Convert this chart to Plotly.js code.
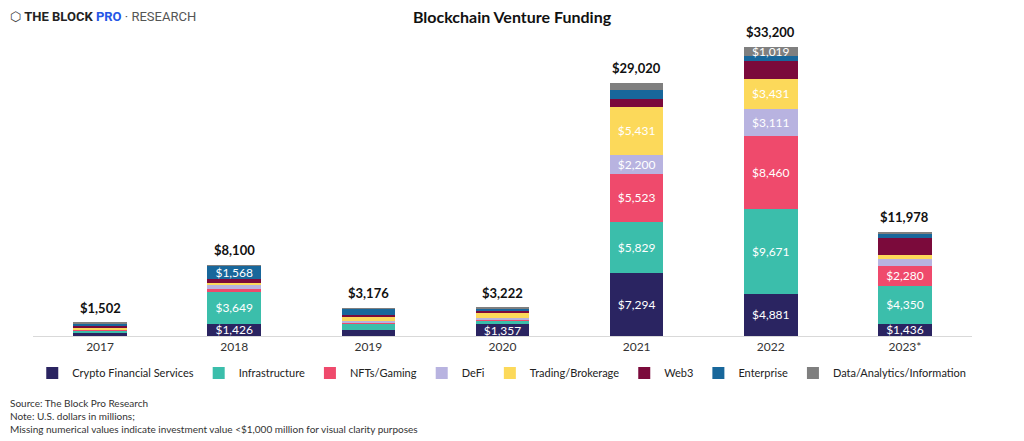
<!DOCTYPE html>
<html>
<head>
<meta charset="utf-8">
<script src="https://cdn.plot.ly/plotly-3.0.1.min.js"></script>
<style>
  html, body { margin: 0; padding: 0; background: #fff; }
  #chart { width: 1024px; height: 441px; }
</style>
</head>
<body>
<div id="chart"></div>
<script>
// years on the x axis
var years = ["2017", "2018", "2019", "2020", "2021", "2022", "2023*"];

// funding per sector, USD millions (small ones)
var cryptoFinancial = [300, 1426, 730, 1357, 7294, 4881, 1436];
var infrastructure = [330, 3649, 700, 380, 5829, 9671, 4350];
var nftsGaming = [70, 330, 150, 100, 5523, 8460, 2280];
var defi = [90, 420, 200, 250, 2200, 3111, 740];
var trading = [190, 320, 450, 560, 5431, 3431, 450];
var web3 = [170, 360, 200, 230, 980, 2050, 2050];
var enterprise = [330, 1568, 720, 250, 970, 577, 490];
var dataAnalytics = [22, 27, 26, 95, 793, 1019, 182];

var totals = [1502, 8100, 3176, 3222, 29020, 33200, 11978];

var seriesNames = [
  "Crypto Financial Services",
  "Infrastructure",
  "NFTs/Gaming",
  "DeFi",
  "Trading/Brokerage",
  "Web3",
  "Enterprise",
  "Data/Analytics/Information",
];

var seriesColors = [
  "#2a2461",
  "#3bbeab",
  "#ef4a6c",
  "#b8b3e0",
  "#fcd95a",
  "#7b0a3b",
  "#18679b",
  "#7f7f7f",
];

var seriesValues = [
  cryptoFinancial,
  infrastructure,
  nftsGaming,
  defi,
  trading,
  web3,
  enterprise,
  dataAnalytics,
];

function money(v) {
  return "$" + v.toLocaleString("en-US");
}

// web3 never gets an inside label in the original
var traces = seriesValues.map(function (vals, i) {
  return {
    type: "bar",
    x: years,
    y: vals,
    name: seriesNames[i],
    marker: { color: seriesColors[i], line: { width: 0 } },
    text: vals.map(function (v) {
      return v >= 1000 && seriesNames[i] !== "Web3" ? money(v) : "";
    }),
    textposition: "inside",
    insidetextanchor: "middle",
    textangle: 0,
    textfont: { family: "Lato, sans-serif", size: 12, color: "#ffffff" },
    hoverinfo: "name+y",
  };
});

// totals above bars; category axis wants the index here
var annotations = years.map(function (yr, i) {
  return {
    x: i,
    y: totals[i],
    xref: "x",
    yref: "y",
    text: "<b>" + money(totals[i]) + "</b>",
    showarrow: false,
    yanchor: "bottom",
    yshift: 5,
    font: { family: "Lato, sans-serif", size: 13, color: "#111" },
  };
});

// logo
annotations.push({
  xref: "paper",
  yref: "paper",
  x: -0.027,
  y: 1.08,
  xanchor: "left",
  yanchor: "middle",
  showarrow: false,
  text:
    "<span style='color:#444'>⬡</span> <b>THE BLOCK</b> <b><span style='color:#2456e6'>PRO</span></b><span style='color:#555'> · RESEARCH</span>",
  font: { family: "Roboto, sans-serif", size: 13, color: "#222" },
});

// footnotes
annotations.push({
  xref: "paper",
  yref: "paper",
  x: -0.027,
  y: -0.2,
  xanchor: "left",
  yanchor: "top",
  align: "left",
  showarrow: false,
  text:
    "Source: The Block Pro Research<br>Note: U.S. dollars in millions;<br>Missing numerical values indicate investment value <$1,000 million for visual clarity purposes",
  font: { family: "Lato, sans-serif", size: 10, color: "#333" },
});

var layout = {
  width: 1024,
  height: 441,
  barmode: "stack",
  bargap: 0.6,
  paper_bgcolor: "#ffffff",
  plot_bgcolor: "#ffffff",
  margin: { l: 33, r: 52, t: 40, b: 105, pad: 0 },
  // keep small segment labels at full size like the original
  uniformtext: { mode: "show", minsize: 12 },
  title: {
    text: "<b>Blockchain Venture Funding</b>",
    xref: "container",
    x: 0.5,
    y: 0.96,
    yanchor: "middle",
    font: { family: "Lato, sans-serif", size: 16, color: "#111" },
  },
  xaxis: {
    type: "category",
    range: [-0.5, 6.5],
    showline: true,
    linecolor: "#d9d9d9",
    linewidth: 1,
    ticks: "",
    showgrid: false,
    tickfont: { family: "Lato, sans-serif", size: 12, color: "#333" },
  },
  yaxis: {
    range: [0, 34000],
    visible: false,
    showgrid: false,
    zeroline: false,
  },
  showlegend: true,
  legend: {
    orientation: "h",
    xref: "container",
    x: 0.49,
    xanchor: "center",
    yref: "container",
    y: 0.154,
    yanchor: "middle",
    font: { family: "Lato, sans-serif", size: 11, color: "#222" },
    itemwidth: 30,
    traceorder: "normal",
  },
  annotations: annotations,
};

Plotly.newPlot("chart", traces, layout, { displayModeBar: false, responsive: false });
</script>
</body>
</html>
